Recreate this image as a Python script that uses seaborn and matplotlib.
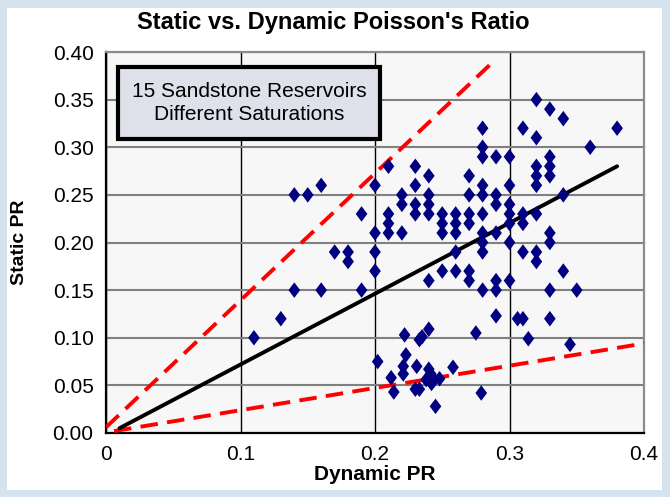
import matplotlib
matplotlib.use("Agg")
import matplotlib.pyplot as plt
import seaborn as sns
import pandas as pd
from matplotlib.patches import Rectangle

# dynamic / static Poisson's ratio pairs
dynamic_pr = [
    0.11, 0.13, 0.14, 0.14, 0.15, 0.16, 0.16, 0.17, 0.18, 0.18, 0.19, 0.19,
    0.20, 0.20, 0.20, 0.20, 0.202,
    0.21, 0.21, 0.21, 0.21, 0.212, 0.214,
    0.22, 0.22, 0.22, 0.222, 0.223, 0.221, 0.221,
    0.23, 0.23, 0.23, 0.23, 0.231, 0.23, 0.233, 0.233, 0.235,
    0.24, 0.24, 0.24, 0.24, 0.24, 0.24, 0.24, 0.2415, 0.242, 0.238, 0.244, 0.248, 0.245,
    0.25, 0.25, 0.25, 0.25,
    0.26, 0.26, 0.26, 0.26, 0.26, 0.258,
    0.27, 0.27, 0.27, 0.27, 0.27, 0.27, 0.275,
    0.28, 0.28, 0.28, 0.28, 0.28, 0.28, 0.28, 0.28, 0.28, 0.28, 0.279,
    0.29, 0.29, 0.29, 0.29, 0.29, 0.29, 0.29,
    0.30, 0.30, 0.30, 0.30, 0.30, 0.30, 0.30,
    0.31, 0.31, 0.31, 0.31, 0.306, 0.31, 0.314,
    0.32, 0.32, 0.32, 0.32, 0.32, 0.32, 0.32, 0.32,
    0.33, 0.33, 0.33, 0.33, 0.33, 0.33, 0.33, 0.33,
    0.34, 0.34, 0.34, 0.345,
    0.35, 0.36, 0.38,
]
static_pr = [
    0.10, 0.12, 0.15, 0.25, 0.25, 0.26, 0.15, 0.19, 0.19, 0.18, 0.23, 0.15,
    0.26, 0.21, 0.19, 0.17, 0.075,
    0.28, 0.23, 0.22, 0.21, 0.058, 0.043,
    0.25, 0.24, 0.21, 0.103, 0.082, 0.07, 0.062,
    0.28, 0.26, 0.24, 0.23, 0.07, 0.046, 0.046, 0.098, 0.101,
    0.27, 0.25, 0.24, 0.23, 0.16, 0.109, 0.067, 0.062, 0.052, 0.056, 0.056, 0.057, 0.028,
    0.23, 0.22, 0.21, 0.17,
    0.23, 0.22, 0.21, 0.19, 0.17, 0.069,
    0.27, 0.25, 0.23, 0.22, 0.17, 0.16, 0.105,
    0.32, 0.30, 0.29, 0.26, 0.25, 0.23, 0.21, 0.20, 0.19, 0.15, 0.042,
    0.29, 0.25, 0.24, 0.21, 0.16, 0.15, 0.123,
    0.29, 0.26, 0.24, 0.23, 0.22, 0.20, 0.16,
    0.32, 0.23, 0.22, 0.19, 0.12, 0.12, 0.099,
    0.35, 0.31, 0.28, 0.27, 0.26, 0.23, 0.19, 0.18,
    0.34, 0.29, 0.28, 0.27, 0.21, 0.20, 0.15, 0.12,
    0.33, 0.25, 0.17, 0.093,
    0.15, 0.30, 0.32,
]

# trend line and the two red bounding lines
fit_x = [0.01, 0.38]
fit_y = [0.005, 0.28]
upper_x = [0.0, 0.288]
upper_y = [0.006, 0.39]
lower_x = [0.006, 0.40]
lower_y = [0.002, 0.094]

x_ticks = [0, 0.1, 0.2, 0.3, 0.4]
x_tick_labels = ["0", "0.1", "0.2", "0.3", "0.4"]
y_ticks = [0, 0.05, 0.10, 0.15, 0.20, 0.25, 0.30, 0.35, 0.40]
y_tick_labels = ["0.00", "0.05", "0.10", "0.15", "0.20", "0.25", "0.30", "0.35", "0.40"]

df = pd.DataFrame({"Dynamic PR": dynamic_pr, "Static PR": static_pr})

sns.set_style("white")
plt.rcParams["font.family"] = ["Liberation Sans", "DejaVu Sans"]
plt.rcParams["text.color"] = "black"
plt.rcParams["axes.labelcolor"] = "black"

fig = plt.figure(figsize=(6.7, 4.97), dpi=100)
fig.patch.set_facecolor("#d6e3ee")
fig.patches.append(Rectangle((7 / 670, 1 - 490 / 497), 655 / 670, 482 / 497,
                             transform=fig.transFigure, facecolor="white",
                             edgecolor="none", zorder=-5))

ax = fig.add_axes([106 / 670, 1 - 433 / 497, 538 / 670, 381 / 497])
ax.set_facecolor("#f7f7f7")

ax.plot(upper_x, upper_y, color="#ff0000", lw=2.8, ls=(0, (4.5, 2.4)), zorder=3)
ax.plot(lower_x, lower_y, color="#ff0000", lw=2.8, ls=(0, (4.5, 2.4)), zorder=3)
ax.plot(fit_x, fit_y, color="black", lw=2.8, zorder=3)

diamond = [(0, 1), (0.75, 0), (0, -1), (-0.75, 0), (0, 1)]
sns.scatterplot(data=df, x="Dynamic PR", y="Static PR", ax=ax, marker=diamond,
                s=125, color="#000080", edgecolor="none", linewidth=0, zorder=4)

ax.set_xlim(0, 0.4)
ax.set_ylim(0, 0.4)
ax.set_xticks(x_ticks)
ax.set_xticklabels(x_tick_labels)
ax.set_yticks(y_ticks)
ax.set_yticklabels(y_tick_labels)
ax.tick_params(axis="both", direction="out", length=6, width=1.2, labelsize=15,
               colors="black", pad=3)

ax.yaxis.grid(True, color="#808080", lw=1.5)
ax.xaxis.grid(True, color="black", lw=1)
ax.set_axisbelow(True)
for side in ["left", "bottom"]:
    ax.spines[side].set_color("black")
    ax.spines[side].set_linewidth(1.6)
for side in ["top", "right"]:
    ax.spines[side].set_color("#8c8c8c")
    ax.spines[side].set_linewidth(1.6)

ax.set_xlabel("Dynamic PR", fontsize=15, fontweight="bold")
ax.set_ylabel("Static PR", fontsize=14, fontweight="bold")
ax.xaxis.set_label_coords(0.5, -0.085)
ax.yaxis.set_label_coords(-0.145, 0.5)

fig.text(333 / 670, 1 - 23 / 497, "Static vs. Dynamic Poisson's Ratio",
         ha="center", va="center", fontsize=17, fontweight="bold")

ax.add_patch(Rectangle((0.022, 0.772), 0.487, 0.189, transform=ax.transAxes,
                       facecolor="#dfe1ea", edgecolor="black", lw=3, zorder=6))
ax.text(0.266, 0.866, "15 Sandstone Reservoirs\nDifferent Saturations",
        transform=ax.transAxes, ha="center", va="center", fontsize=15,
        linespacing=1.25, zorder=7)

fig.savefig("out.png", dpi=100, facecolor=fig.get_facecolor())
